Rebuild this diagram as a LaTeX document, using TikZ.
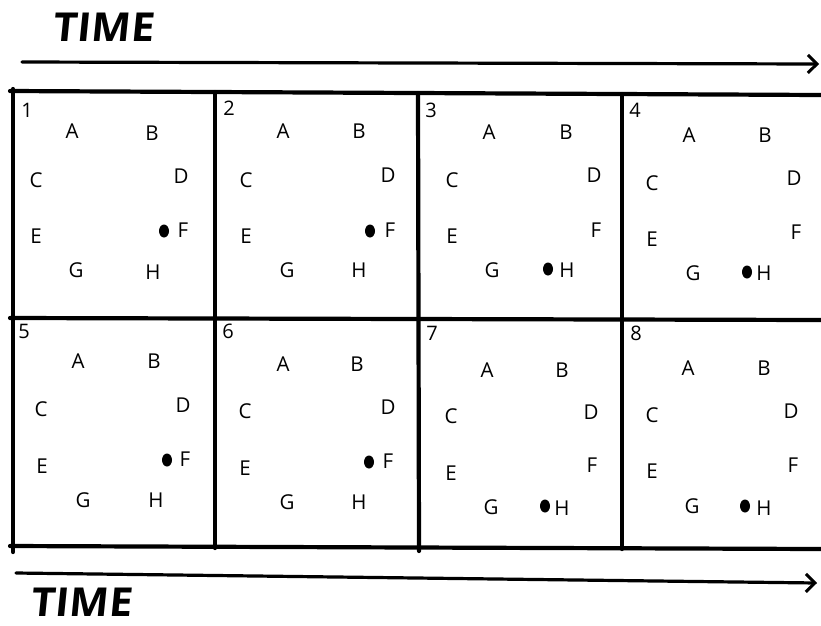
\documentclass[tikz,border=0pt]{standalone}
\usepackage{fontspec}
\setmainfont{Open Sans}
\newfontfamily\handfont{Open Sans}
\usetikzlibrary{arrows.meta,shapes.geometric}
\tikzset{
  lbl/.style={inner sep=0pt, font=\fontsize{20.5}{20.5}\selectfont},
  num/.style={inner sep=0pt, font=\fontsize{20}{20}\selectfont},
  dot/.style={fill=black, ellipse, minimum width=10pt, minimum height=13pt, inner sep=0pt},
  grid/.style={line width=4.2pt, line cap=round},
  timearrow/.style={line width=3.2pt, line cap=round, -{Straight Barb[length=9pt, width=18pt, line width=3pt]}},
  timetext/.style={inner sep=0pt, font=\handfont\bfseries\fontsize{38}{38}\selectfont, xslant=0.1, yscale=1.05, xscale=1.1},
}
\begin{document}
\begin{tikzpicture}[x=1pt, y=-1pt]
\useasboundingbox (0,0) rectangle (821,625);
% time labels and arrows
\node[timetext, anchor=west] (ttop) at (54,27) {TIME};
\node[timetext, anchor=west] (tbot) at (32,602) {TIME};
\coordinate (a1s) at (22,62);
\coordinate (a1e) at (819,64);
\coordinate (a2s) at (16,573);
\coordinate (a2e) at (817,583);
\draw[timearrow] (a1s) -- (a1e);
\draw[timearrow] (a2s) -- (a2e);
% grid
\coordinate (h1l) at (10,91);  \coordinate (h1r) at (821,95);
\coordinate (h2l) at (10,318); \coordinate (h2r) at (821,320);
\coordinate (h3l) at (10,546); \coordinate (h3r) at (821,549);
\coordinate (v1t) at (13,89);  \coordinate (v1b) at (13,552);
\coordinate (v2t) at (215,92); \coordinate (v2b) at (215,548);
\coordinate (v3t) at (418,93); \coordinate (v3b) at (419,551);
\coordinate (v4t) at (622,94); \coordinate (v4b) at (622,549);
\draw[grid] (h1l) -- (h1r);
\draw[grid] (h2l) -- (h2r);
\draw[grid] (h3l) -- (h3r);
\draw[grid] (v1t) -- (v1b);
\draw[grid] (v2t) -- (v2b);
\draw[grid] (v3t) -- (v3b);
\draw[grid] (v4t) -- (v4b);
% panel 1
\node[num] (n1) at (27,110) {1};
\foreach \l/\x/\y in {A/72/131,B/152/133,C/36/180,D/181/176,E/36/236,F/183/230,G/76/270,H/153/272}
  \node[lbl] (p1\l) at (\x,\y) {\l};
\node[dot] (d1) at (164,231) {};
% panel 2
\node[num] (n2) at (229,108) {2};
\foreach \l/\x/\y in {A/283/131,B/359/131,C/246/180,D/388/175,E/246/236,F/390/230,G/287/270,H/359/270}
  \node[lbl] (p2\l) at (\x,\y) {\l};
\node[dot] (d2) at (370,231) {};
% panel 3
\node[num] (n3) at (431,110) {3};
\foreach \l/\x/\y in {A/489/132,B/566/132,C/452/180,D/594/175,E/452/236,F/596/230,G/492/270,H/567/270}
  \node[lbl] (p3\l) at (\x,\y) {\l};
\node[dot] (d3) at (548,269) {};
% panel 4
\node[num] (n4) at (635,110) {4};
\foreach \l/\x/\y in {A/689/135,B/765/135,C/652/183,D/794/178,E/652/239,F/796/232,G/693/273,H/764/273}
  \node[lbl] (p4\l) at (\x,\y) {\l};
\node[dot] (d4) at (747,272) {};
% panel 5
\node[num] (n5) at (24,331) {5};
\foreach \l/\x/\y in {A/78/361,B/154/361,C/41/409,D/183/405,E/42/466,F/185/459,G/83/500,H/156/500}
  \node[lbl] (p5\l) at (\x,\y) {\l};
\node[dot] (d5) at (167,460) {};
% panel 6
\node[num] (n6) at (228,331) {6};
\foreach \l/\x/\y in {A/283/364,B/357/364,C/245/411,D/388/407,E/245/468,F/388/461,G/287/502,H/359/502}
  \node[lbl] (p6\l) at (\x,\y) {\l};
\node[dot] (d6) at (369,462) {};
% panel 7
\node[num] (n7) at (432,333) {7};
\foreach \l/\x/\y in {A/487/370,B/562/370,C/451/416,D/591/412,E/451/473,F/592/465,G/491/507,H/562/508}
  \node[lbl] (p7\l) at (\x,\y) {\l};
\node[dot] (d7) at (545,506) {};
% panel 8
\node[num] (n8) at (636,333) {8};
\foreach \l/\x/\y in {A/688/368,B/764/368,C/652/415,D/791/411,E/652/471,F/793/465,G/692/506,H/764/508}
  \node[lbl] (p8\l) at (\x,\y) {\l};
\node[dot] (d8) at (745,506) {};
\end{tikzpicture}
\end{document}
